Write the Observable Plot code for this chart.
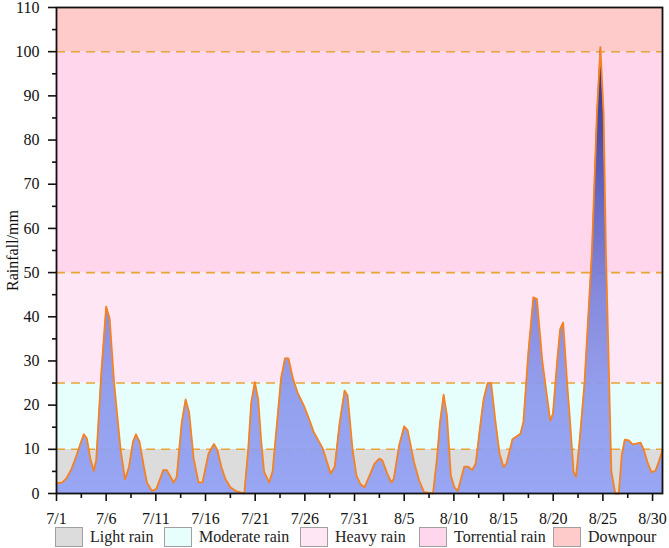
<!DOCTYPE html>
<html><head><meta charset="utf-8">
<script src="https://cdn.jsdelivr.net/npm/d3@7"></script>
<script src="https://cdn.jsdelivr.net/npm/@observablehq/plot@0.6"></script>
<style>
body{margin:0;background:#fff;font-family:"Liberation Serif","Times New Roman",serif;}
#chart svg{display:block;}
#legend{position:relative;width:669px;height:22px;}
.item{position:absolute;top:0;height:22px;display:flex;align-items:center;font-size:16px;color:#222;white-space:nowrap;}
.sw{width:28px;height:20px;box-sizing:border-box;border:1px solid #a0a0a0;margin-right:7px;}
</style></head><body>
<div id="chart"></div>
<div id="legend"></div>
<script>
// Day offset from 7/1 (0 = 7/1, 31 = 8/1) and rainfall (mm)
const dayPos = [0.0,0.6,1.0,1.5,2.0,2.4,2.75,3.05,3.4,3.75,4.0,4.5,5.0,5.35,5.8,6.45,6.9,7.3,7.7,8.0,8.35,8.8,9.1,9.6,10.05,10.75,11.1,11.8,12.1,12.6,13.0,13.35,13.8,14.3,14.7,15.3,15.85,16.2,16.6,17.0,17.5,18.0,18.9,19.3,19.6,19.96,20.3,20.6,20.9,21.4,21.75,22.2,22.6,23.0,23.35,23.8,24.26,24.9,25.4,25.9,26.8,27.6,28.0,28.5,29.0,29.3,29.8,30.2,30.6,31.0,31.5,32.0,32.5,32.8,33.3,33.7,33.95,34.5,35.0,35.35,36.0,36.5,37.0,37.9,38.3,38.6,38.97,39.3,39.7,40.05,40.4,41.05,41.45,41.85,42.2,42.8,43.0,43.4,43.75,44.2,44.6,45.0,45.3,45.9,46.7,47.0,47.5,48.0,48.36,48.9,49.7,49.97,50.4,50.7,51.0,51.4,51.65,52.05,52.3,52.7,53.15,53.9,54.4,54.75,55.07,55.3,55.6,55.85,56.25,56.6,56.9,57.2,57.6,58.0,58.4,58.8,59.1,59.5,59.9,60.3,60.6,61.0];
const rainfall = [2.3,2.5,3.4,5.5,8.5,11.2,13.4,12.5,8,5.1,7.6,27,42.3,39.6,25,10,3.2,6,11.7,13.4,11.8,6,2.5,0.6,1.0,5.3,5.3,2.5,3.7,16,21.3,18.4,8,2.5,2.5,9,11.2,9.8,6,3.3,1.4,0.6,0,10,20.5,25.2,21.4,12,4.9,2.5,5,16,26,30.6,30.6,26,22.9,19.9,17,13.9,10.2,4.5,6.0,16,23.3,22.2,10,4,2.1,1.4,4,6.7,7.9,7.5,4.5,2.5,3.3,11,15.2,14.3,7,3,0.3,0,8,16,22.4,17.7,4,1.4,0.6,6.1,6.1,5.3,6.8,18,21.4,25,25,16,9,6.0,6.8,12.3,13.5,16.2,32,44.4,44.0,30,16.5,18.0,30,37.2,38.7,25,17.7,4.9,3.8,13,25,55,86,101,86,55,28,5,0,0,8.6,12.2,12.0,11.1,11.3,11.5,10,7,4.8,5.2,7,9.8];

const tickDays = [0,5,10,15,20,25,30,35,40,45,50,55,60];
const tickLabels = ["7/1","7/6","7/11","7/16","7/21","7/26","7/31","8/5","8/10","8/15","8/20","8/25","8/30"];
const minorDays = [2.5,7.5,12.5,17.5,22.5,27.5,32.5,37.5,42.5,47.5,52.5,57.5];
const yTicks = [0,10,20,30,40,50,60,70,80,90,100,110];
const yMinor = [5,15,25,35,45,55,65,75,85,95,105];

const bandNames = ["Light rain","Moderate rain","Heavy rain","Torrential rain","Downpour"];
const bandLow = [0,10,25,50,100];
const bandHigh = [10,25,50,100,110];
const bandColors = ["#dcdcdc","#e6fffd","#ffe6f4","#ffd6ec","#ffcaca"];
const thresholds = [10,25,50,100];

const data = dayPos.map((d,i)=>({day:d, value:rainfall[i]}));
const bands = bandNames.map((n,i)=>({name:n, y1:bandLow[i], y2:bandHigh[i], color:bandColors[i]}));

const defs = () => {
  const g = d3.create("svg:defs");
  const lg = g.append("linearGradient").attr("id","rainGrad")
    .attr("x1",0).attr("y1",1).attr("x2",0).attr("y2",0);
  [[0,"#93a2f5"],[0.25,"#8b97ea"],[0.45,"#7c83da"],[0.65,"#5d62c2"],[0.85,"#383b9e"],[1,"#181876"]]
    .forEach(([o,c])=>lg.append("stop").attr("offset",o).attr("stop-color",c));
  return g.node();
};

const chart = Plot.plot({
  width:669, height:526,
  marginLeft:56, marginRight:7, marginTop:7, marginBottom:33,
  style:{fontFamily:"'Liberation Serif','Times New Roman',serif", fontSize:"16px", color:"#111", background:"#fff"},
  x:{domain:[0,61]},
  y:{domain:[0,110]},
  marks:[
    defs,
    ...bands.map(b => Plot.rect([b], {y1:"y1", y2:"y2", fill:b.color})),
    Plot.ruleY(thresholds, {stroke:"#e9a437", strokeWidth:1.6, strokeDasharray:"9,6"}),
    Plot.areaY(data, {x:"day", y:"value", fill:"url(#rainGrad)", fillOpacity:0.93}),
    Plot.lineY(data, {x:"day", y:"value", stroke:"#f5821f", strokeWidth:1.8}),
    Plot.axisX(tickDays, {tickSize:8, tickPadding:11, strokeWidth:1.6, fontSize:16, label:null,
      tickFormat:d => tickLabels[tickDays.indexOf(d)]}),
    Plot.axisX(minorDays, {tickSize:5, strokeWidth:1.6, label:null, tickFormat:() => ""}),
    Plot.axisY(yTicks, {tickSize:8, tickPadding:9, strokeWidth:1.6, fontSize:16,
      label:"Rainfall/mm", labelAnchor:"center", labelArrow:"none", labelOffset:50}),
    Plot.axisY(yMinor, {tickSize:4, strokeWidth:1.6, label:null, tickFormat:() => ""}),
    Plot.frame({stroke:"#111", strokeWidth:1.8})
  ]
});
document.getElementById("chart").appendChild(chart);

const legendLeft = [55,164,300,419,553];
const lg = document.getElementById("legend");
bandNames.forEach((n,i)=>{
  const it = document.createElement("div");
  it.className = "item";
  it.style.left = legendLeft[i] + "px";
  const sw = document.createElement("div");
  sw.className = "sw";
  sw.style.background = bandColors[i];
  it.appendChild(sw);
  it.appendChild(document.createTextNode(n));
  lg.appendChild(it);
});
</script>
</body></html>
